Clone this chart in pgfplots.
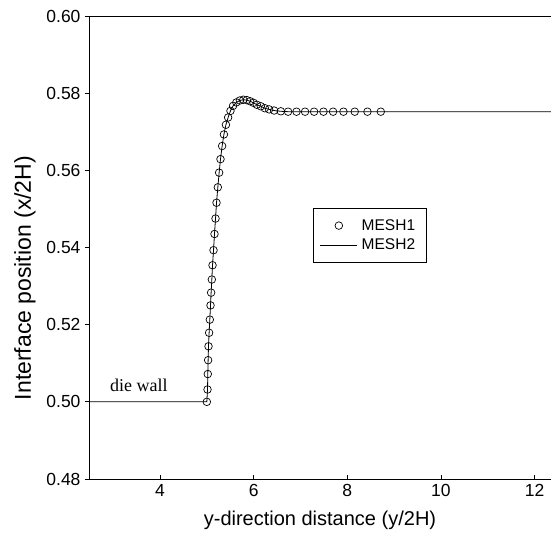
\documentclass[border=0pt]{standalone}
\usepackage{pgfplots}
\pgfplotsset{compat=1.18}
\usepackage{fontspec}
\setmainfont{Liberation Sans}
\newfontfamily\serifdie{Liberation Serif}
\usetikzlibrary{calc}

\pgfplotstableread{
x y
5.000 0.5000
5.015 0.5032
5.021 0.5072
5.028 0.5108
5.036 0.5144
5.049 0.5179
5.064 0.5213
5.079 0.5250
5.092 0.5283
5.107 0.5317
5.122 0.5354
5.143 0.5393
5.164 0.5435
5.186 0.5475
5.207 0.5516
5.235 0.5556
5.263 0.5594
5.292 0.5629
5.327 0.5663
5.365 0.5693
5.408 0.5718
5.455 0.5737
5.505 0.5754
5.560 0.5767
5.630 0.5776
5.705 0.5781
5.780 0.5783
5.854 0.5782
5.925 0.5779
5.997 0.5775
6.067 0.5770
6.153 0.5766
6.238 0.5761
6.330 0.5758
6.437 0.5755
6.580 0.5753
6.736 0.5752
6.915 0.5752
7.098 0.5752
7.291 0.5752
7.491 0.5752
7.696 0.5752
7.918 0.5752
8.159 0.5752
8.430 0.5752
8.715 0.5752
}\meshone

\pgfplotstableread{
x y
2.484 0.5000
5.000 0.5000
5.015 0.5032
5.021 0.5072
5.028 0.5108
5.036 0.5144
5.049 0.5179
5.064 0.5213
5.079 0.5250
5.092 0.5283
5.107 0.5317
5.122 0.5354
5.143 0.5393
5.164 0.5435
5.186 0.5475
5.207 0.5516
5.235 0.5556
5.263 0.5594
5.292 0.5629
5.327 0.5663
5.365 0.5693
5.408 0.5718
5.455 0.5737
5.505 0.5754
5.560 0.5767
5.630 0.5776
5.705 0.5781
5.780 0.5783
5.854 0.5782
5.925 0.5779
5.997 0.5775
6.067 0.5770
6.153 0.5766
6.238 0.5761
6.330 0.5758
6.437 0.5755
6.580 0.5753
6.736 0.5752
7.000 0.5752
8.715 0.5752
12.35 0.5752
}\meshtwo

\begin{document}
\begin{tikzpicture}
\begin{axis}[
  scale only axis,
  width=462bp, height=463bp,
  xmin=2.484, xmax=12.35,
  ymin=0.48, ymax=0.60,
  enlargelimits=false,
  separate axis lines,
  axis x line=box,
  axis y line=left,
  x axis line style={-, line width=0.9pt},
  y axis line style={-, line width=0.9pt},
  xtick={4,6,8,10,12},
  ytick={0.48,0.50,0.52,0.54,0.56,0.58,0.60},
  xtick pos=left, ytick pos=left,
  xtick align=inside, ytick align=outside,
  major tick length=4bp,
  tick style={black, line width=0.7pt},
  /pgf/number format/assume math mode=true,
  yticklabel style={/pgf/number format/fixed, /pgf/number format/fixed zerofill, /pgf/number format/precision=2, xshift=-1bp},
  ticklabel style={font=\fontsize{17.5bp}{20bp}\selectfont},
  xticklabel style={yshift=-2bp},
  xlabel={y-direction distance (y/2H)},
  ylabel={Interface position (x/2H)},
  xlabel style={font=\fontsize{20bp}{24bp}\selectfont, at={(axis description cs:0.5,-0.0994)}, anchor=base},
  ylabel style={font=\fontsize{23bp}{27bp}\selectfont, at={(axis description cs:-0.1385,0.434)}, anchor=center},
  legend cell align=left,
  legend style={at={(axis cs:7.26,0.5502)}, anchor=north west,
    font=\fontsize{15.5bp}{18bp}\selectfont,
    draw=black, line width=0.6pt, inner xsep=7bp, inner ysep=9bp,
    row sep=3bp, nodes={inner xsep=4bp, inner ysep=2bp}},
  legend image code/.code={\draw[mark repeat=2,mark phase=2,#1] plot coordinates {(0bp,0bp) (18.5bp,0bp) (37bp,0bp)};},
]
\addplot[only marks, mark=o, mark size=3.8bp, mark options={line width=0.7pt, black}] table {\meshone};
\addlegendentry{MESH1}
\addplot[black, line width=0.8pt, no marks] table {\meshtwo};
\addlegendentry{MESH2}
\node[font=\serifdie\fontsize{18bp}{21bp}\selectfont, anchor=center] at (axis cs:3.548,0.5043) {die wall};
\end{axis}
\pgfresetboundingbox
\path[use as bounding box] ($(current axis.south west)+(-89bp,-60bp)$) rectangle ($(current axis.north east)+(0bp,16bp)$);
\end{tikzpicture}
\end{document}
